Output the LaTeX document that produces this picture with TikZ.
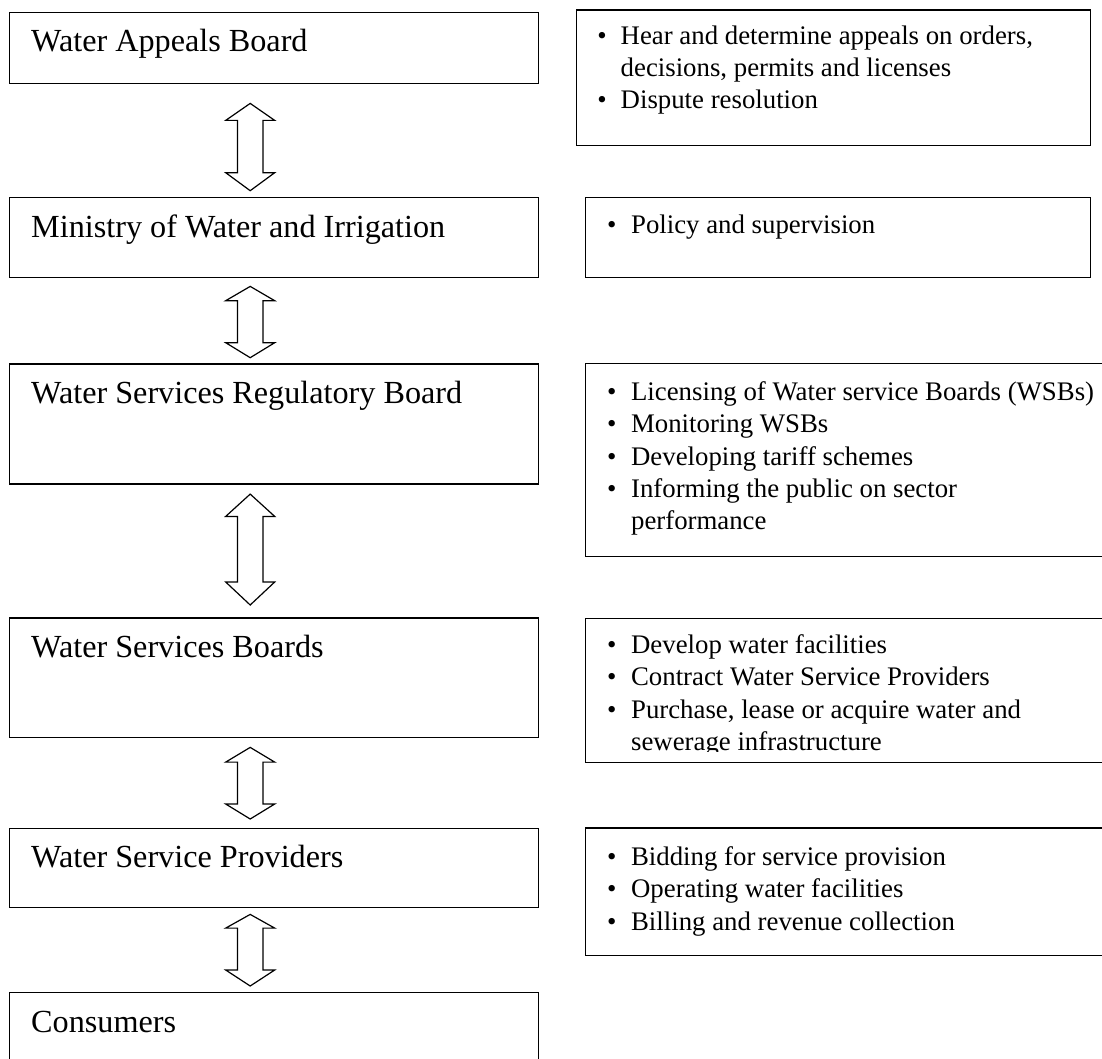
\documentclass[tikz,border=0pt]{standalone}
\usepackage{fontspec}
\setmainfont{Liberation Serif}
\usetikzlibrary{calc}
\tikzset{
  lbox/.style={draw, line width=1.4pt, anchor=north west, inner sep=0pt, minimum width=528.5pt},
  rbox/.style={draw, line width=1.4pt, anchor=north west, inner sep=0pt},
  ltext/.style={anchor=base west, inner sep=0pt, font=\fontsize{32.2}{36}\selectfont},
  rtext/.style={anchor=base west, inner sep=0pt, font=\fontsize{26.8}{32}\selectfont},
  bul/.style={anchor=base, inner sep=0pt, font=\fontsize{26.8}{32}\selectfont},
  duo/.style={draw, line width=1.2pt, line join=miter, fill=white}
}
% hollow up-down arrow between two named boxes
% #1 upper node, #2 lower node, #3 gap below upper, #4 upper head length, #5 lower head length, #6 gap above lower
\newcommand\udarrow[6]{%
  \draw[duo] let \p1=([xshift=-23.75pt,yshift=-#3pt]#1.south),
                 \p2=([xshift=-23.75pt,yshift=#6pt]#2.north) in
    (\x1,\y1) -- (\x1+24.5pt,\y1-#4pt) -- (\x1+12.8pt,\y1-#4pt)
    -- (\x1+12.8pt,\y2+#5pt) -- (\x1+24.5pt,\y2+#5pt) -- (\x1,\y2)
    -- (\x1-24.5pt,\y2+#5pt) -- (\x1-12.8pt,\y2+#5pt)
    -- (\x1-12.8pt,\y1-#4pt) -- (\x1-24.5pt,\y1-#4pt) -- cycle;}
% bullet item: #1 name, #2 box, #3 bullet x offset, #4 text x offset, #5 baseline offset, #6 text
\newcommand\ritem[6]{%
  \node[bul] (#1b) at ([xshift=#3pt,yshift=-#5pt]#2.north west) {\textbullet};
  \node[rtext] (#1) at ([xshift=#4pt,yshift=-#5pt]#2.north west) {#6};}
% continuation line: #1 name, #2 box, #3 text x offset, #4 baseline offset, #5 text
\newcommand\rcont[5]{%
  \node[rtext] (#1) at ([xshift=#3pt,yshift=-#4pt]#2.north west) {#5};}
\begin{document}
\begin{tikzpicture}[x=1pt,y=1pt]
\useasboundingbox (0,0) rectangle (1102,-1059);
\clip (0,0) rectangle (1102,-1059);

% left column boxes
\node[lbox, minimum height=71pt]    (b1) at (9,-12) {};
\node[lbox, minimum height=79.5pt]  (b2) at (9,-197) {};
\node[lbox, minimum height=120pt]   (b3) at (9,-363.3) {};
\node[lbox, minimum height=119.7pt] (b4) at (9,-617.3) {};
\node[lbox, minimum height=79pt]    (b5) at (9,-827.7) {};
\node[lbox, minimum height=100pt]   (b6) at (9,-992) {};

\node[ltext] (t1) at ([xshift=22pt,yshift=-40pt]b1.north west) {Water Appeals Board};
\node[ltext] (t2) at ([xshift=22pt,yshift=-40pt]b2.north west) {Ministry of Water and Irrigation};
\node[ltext] (t3) at ([xshift=22pt,yshift=-40pt]b3.north west) {Water Services Regulatory Board};
\node[ltext] (t4) at ([xshift=22pt,yshift=-40pt]b4.north west) {Water Services Boards};
\node[ltext] (t5) at ([xshift=22pt,yshift=-40pt]b5.north west) {Water Service Providers};
\node[ltext] (t6) at ([xshift=22pt,yshift=-40pt]b6.north west) {Consumers};

% arrows
\udarrow{b1}{b2}{19}{17}{18}{6.3}
\udarrow{b2}{b3}{8.5}{14.3}{15}{5.6}
\udarrow{b3}{b4}{9.4}{22.3}{23}{12.3}
\udarrow{b4}{b5}{9}{14.7}{15}{8.7}
\udarrow{b5}{b6}{6.3}{13.7}{16}{6}

% right column boxes
\node[rbox, minimum width=514.4pt, minimum height=135.7pt] (r1) at (575.6,-9.3) {};
\node[rbox, minimum width=505.1pt, minimum height=80pt]    (r2) at (584.9,-196.7) {};
\node[rbox, minimum width=530pt,   minimum height=193.3pt] (r3) at (584.9,-362.7) {};
\node[rbox, minimum width=530pt,   minimum height=144.3pt] (r4) at (584.9,-617.7) {};
\node[rbox, minimum width=530pt,   minimum height=127.7pt] (r5) at (584.9,-827.3) {};

\ritem{a1}{r1}{26.4}{44.9}{35.7}{Hear and determine appeals on orders,}
\rcont{a2}{r1}{44.9}{67.2}{decisions, permits and licenses}
\ritem{a3}{r1}{26.4}{44.9}{99}{Dispute resolution}

\ritem{p1}{r2}{27}{46}{36.6}{Policy and supervision}

\ritem{c1}{r3}{27}{46}{37.3}{Licensing of Water service Boards (WSBs)}
\ritem{c2}{r3}{27}{46}{69.8}{Monitoring WSBs}
\ritem{c3}{r3}{27}{46}{102.3}{Developing tariff schemes}
\ritem{c4}{r3}{27}{46}{134.8}{Informing the public on sector}
\rcont{c5}{r3}{46}{166.8}{performance}

\begin{scope}
\clip (584.9,-617.7) rectangle (1102,-751.5);
\ritem{d1}{r4}{27}{46}{35.6}{Develop water facilities}
\ritem{d2}{r4}{27}{46}{68}{Contract Water Service Providers}
\ritem{d3}{r4}{27}{46}{100.8}{Purchase, lease or acquire water and}
\rcont{d4}{r4}{46}{132.3}{sewerage infrastructure}
\end{scope}

\ritem{e1}{r5}{27}{46}{37.7}{Bidding for service provision}
\ritem{e2}{r5}{27}{46}{70.2}{Operating water facilities}
\ritem{e3}{r5}{27}{46}{102.7}{Billing and revenue collection}
\end{tikzpicture}
\end{document}
